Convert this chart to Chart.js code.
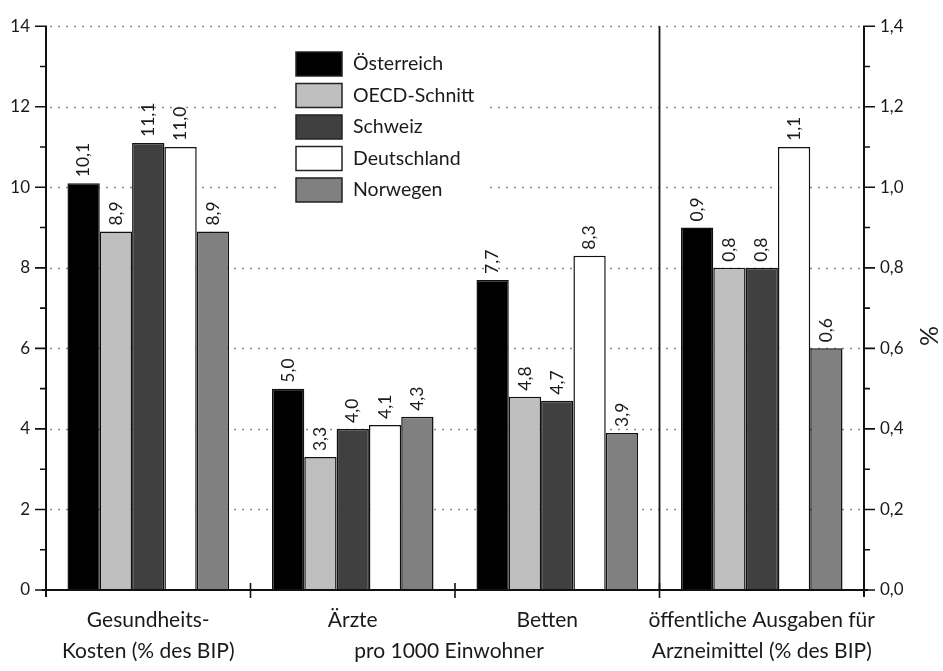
<!DOCTYPE html>
<html>
<head>
<meta charset="utf-8">
<script src="https://cdn.jsdelivr.net/npm/chart.js@4/dist/chart.umd.min.js"></script>
<style>
  html, body { margin: 0; padding: 0; background: #fff; }
  #wrap { width: 943px; height: 671px; }
</style>
</head>
<body>
<div id="wrap"><canvas id="c" width="943" height="671"></canvas></div>
<script>
// Indicator groups (x axis)
const categories = ['Gesundheits-Kosten (% des BIP)', 'Ärzte', 'Betten', 'öffentliche Ausgaben für Arzneimittel (% des BIP)'];
const categoryLines = [['Gesundheits-', 'Kosten (% des BIP)'], ['Ärzte'], ['Betten'], ['öffentliche Ausgaben für', 'Arzneimittel (% des BIP)']];
const sharedUnitLabel = 'pro 1000 Einwohner';   // applies to Ärzte and Betten

// Countries
const seriesNames = ['Österreich', 'OECD-Schnitt', 'Schweiz', 'Deutschland', 'Norwegen'];

// Left axis: Gesundheitskosten, Ärzte, Betten
const oesterreich = [10.1, 5.0, 7.7];
const oecdSchnitt = [8.9, 3.3, 4.8];
const schweiz     = [11.1, 4.0, 4.7];
const deutschland = [11.0, 4.1, 8.3];
const norwegen    = [8.9, 4.3, 3.9];

// Right axis (%): öffentliche Ausgaben für Arzneimittel, same country order
const arzneimittel = [0.9, 0.8, 0.8, 1.1, 0.6];

// Axis ticks
const leftTicks  = [0, 2, 4, 6, 8, 10, 12, 14];
const rightTicks = [0, 0.2, 0.4, 0.6, 0.8, 1.0, 1.2, 1.4];

const seriesColors = ['#000000', '#bfbfbf', '#404040', '#ffffff', '#808080'];
const FONT = 'Lato, "Open Sans", sans-serif';
const TEXT = '#1a1a1a';

const fmt = v => v.toFixed(1).replace('.', ',');

const leftSeries = [oesterreich, oecdSchnitt, schweiz, deutschland, norwegen];
const datasets = [];
leftSeries.forEach((vals, i) => {
  datasets.push({
    label: seriesNames[i],
    data: [...vals, null],
    yAxisID: 'y',
    backgroundColor: seriesColors[i],
    borderColor: '#111',
    borderWidth: 1.5,
    skipNull: true
  });
});
arzneimittel.forEach((v, i) => {
  datasets.push({
    label: seriesNames[i] + ' (Arzneimittel)',
    data: [null, null, null, v],
    yAxisID: 'y2',
    backgroundColor: seriesColors[i],
    borderColor: '#111',
    borderWidth: 1.5,
    skipNull: true
  });
});

const decorations = {
  id: 'decorations',
  beforeDatasetsDraw(chart) {
    const { ctx, chartArea, scales } = chart;
    const y = scales.y;
    ctx.save();
    // dotted horizontal grid
    ctx.strokeStyle = '#8a8a8a';
    ctx.lineWidth = 1.6;
    ctx.setLineDash([2, 6]);
    leftTicks.forEach(t => {
      if (t === 0) return;
      const py = Math.round(y.getPixelForValue(t)) + 0.5;
      ctx.beginPath();
      ctx.moveTo(chartArea.left + 4, py);
      ctx.lineTo(chartArea.right, py);
      ctx.stroke();
    });
    ctx.setLineDash([]);
    // legend background
    ctx.fillStyle = '#fff';
    ctx.fillRect(282, 40, 205, 170);
    ctx.restore();
  },
  afterDatasetsDraw(chart) {
    const { ctx, chartArea, scales } = chart;
    const x = scales.x, y = scales.y, y2 = scales.y2;
    const L = chartArea.left, R = chartArea.right, T = chartArea.top, B = chartArea.bottom;
    ctx.save();
    ctx.strokeStyle = '#111';
    ctx.lineCap = 'butt';

    // axis lines
    ctx.lineWidth = 2;
    ctx.beginPath();
    ctx.moveTo(L, T); ctx.lineTo(L, B + 7);
    ctx.moveTo(R, T); ctx.lineTo(R, B + 7);
    ctx.moveTo(L - 4, B); ctx.lineTo(R + 4, B);
    ctx.stroke();

    // left ticks (major + minor)
    ctx.lineWidth = 1.6;
    ctx.beginPath();
    for (let v = 0; v <= 14; v++) {
      const py = y.getPixelForValue(v);
      const len = v % 2 === 0 ? 11 : 6;
      ctx.moveTo(L - len, py); ctx.lineTo(L + 1, py);
    }
    // right ticks (major + minor)
    for (let k = 0; k <= 14; k++) {
      const py = y2.getPixelForValue(k / 10);
      const len = k % 2 === 0 ? 11 : 6;
      ctx.moveTo(R - 1, py); ctx.lineTo(R + len, py);
    }
    // group boundary ticks on x axis
    for (let i = 1; i < categories.length; i++) {
      const px = (x.getPixelForValue(i - 1) + x.getPixelForValue(i)) / 2;
      ctx.moveTo(px, B - 7); ctx.lineTo(px, B + 8);
    }
    ctx.stroke();

    // separator between left-axis groups and the right-axis group
    const sepX = (x.getPixelForValue(2) + x.getPixelForValue(3)) / 2;
    ctx.lineWidth = 1.8;
    ctx.beginPath();
    ctx.moveTo(sepX, T); ctx.lineTo(sepX, B);
    ctx.stroke();

    // value labels, rotated
    ctx.fillStyle = TEXT;
    ctx.font = '17.5px ' + FONT;
    ctx.textAlign = 'left';
    ctx.textBaseline = 'middle';
    chart.data.datasets.forEach((ds, di) => {
      const meta = chart.getDatasetMeta(di);
      meta.data.forEach((el, idx) => {
        const v = ds.data[idx];
        if (v === null || v === undefined) return;
        ctx.save();
        ctx.translate(el.x, el.y - 6);
        ctx.rotate(-Math.PI / 2);
        ctx.fillText(fmt(v), 0, 0);
        ctx.restore();
      });
    });

    // category labels
    ctx.font = '21px ' + FONT;
    ctx.textAlign = 'center';
    ctx.textBaseline = 'middle';
    const line1 = B + 30, line2 = B + 61;
    categoryLines.forEach((lines, i) => {
      const cx = x.getPixelForValue(i) + (i === 2 ? -10 : 0);
      lines.forEach((t, j) => ctx.fillText(t, cx, j === 0 ? line1 : line2));
    });
    const unitX = (x.getPixelForValue(1) + x.getPixelForValue(2)) / 2 - 6;
    ctx.fillText(sharedUnitLabel, unitX, line2);

    // right axis unit
    ctx.save();
    ctx.font = '25px ' + FONT;
    ctx.translate(930, (T + B) / 2 + 28);
    ctx.rotate(-Math.PI / 2);
    ctx.fillText('%', 0, 0);
    ctx.restore();

    // legend
    ctx.font = '19.5px ' + FONT;
    ctx.textAlign = 'left';
    seriesNames.forEach((name, i) => {
      const by = 52 + i * 31.5;
      ctx.fillStyle = seriesColors[i];
      ctx.fillRect(296, by, 46, 24);
      ctx.lineWidth = 1.5;
      ctx.strokeStyle = '#222';
      ctx.strokeRect(296, by, 46, 24);
      ctx.fillStyle = TEXT;
      ctx.fillText(name, 353, by + 12);
    });
    ctx.restore();
  }
};

new Chart(document.getElementById('c'), {
  type: 'bar',
  data: { labels: categories, datasets },
  options: {
    responsive: false,
    animation: false,
    devicePixelRatio: 1,
    layout: { padding: { top: 24, left: 0, right: 0, bottom: 0 } },
    datasets: { bar: { categoryPercentage: 0.79, barPercentage: 1.0 } },
    plugins: { legend: { display: false }, tooltip: { enabled: false } },
    scales: {
      x: {
        type: 'category',
        grid: { display: false, drawTicks: false },
        border: { display: false },
        ticks: { display: false },
        afterFit: s => { s.height = 81; }
      },
      y: {
        position: 'left',
        min: 0, max: 14,
        afterBuildTicks: s => { s.ticks = leftTicks.map(v => ({ value: v })); },
        ticks: { padding: 16, color: TEXT, font: { family: FONT, size: 17 }, callback: v => String(v) },
        grid: { display: false, drawTicks: false },
        border: { display: false },
        afterFit: s => { s.width = 46; }
      },
      y2: {
        position: 'right',
        min: 0, max: 1.4,
        afterBuildTicks: s => { s.ticks = rightTicks.map(v => ({ value: v })); },
        ticks: { padding: 16, color: TEXT, font: { family: FONT, size: 17 }, callback: v => fmt(v) },
        grid: { display: false, drawTicks: false },
        border: { display: false },
        afterFit: s => { s.width = 79; }
      }
    }
  },
  plugins: [decorations]
});
</script>
</body>
</html>
